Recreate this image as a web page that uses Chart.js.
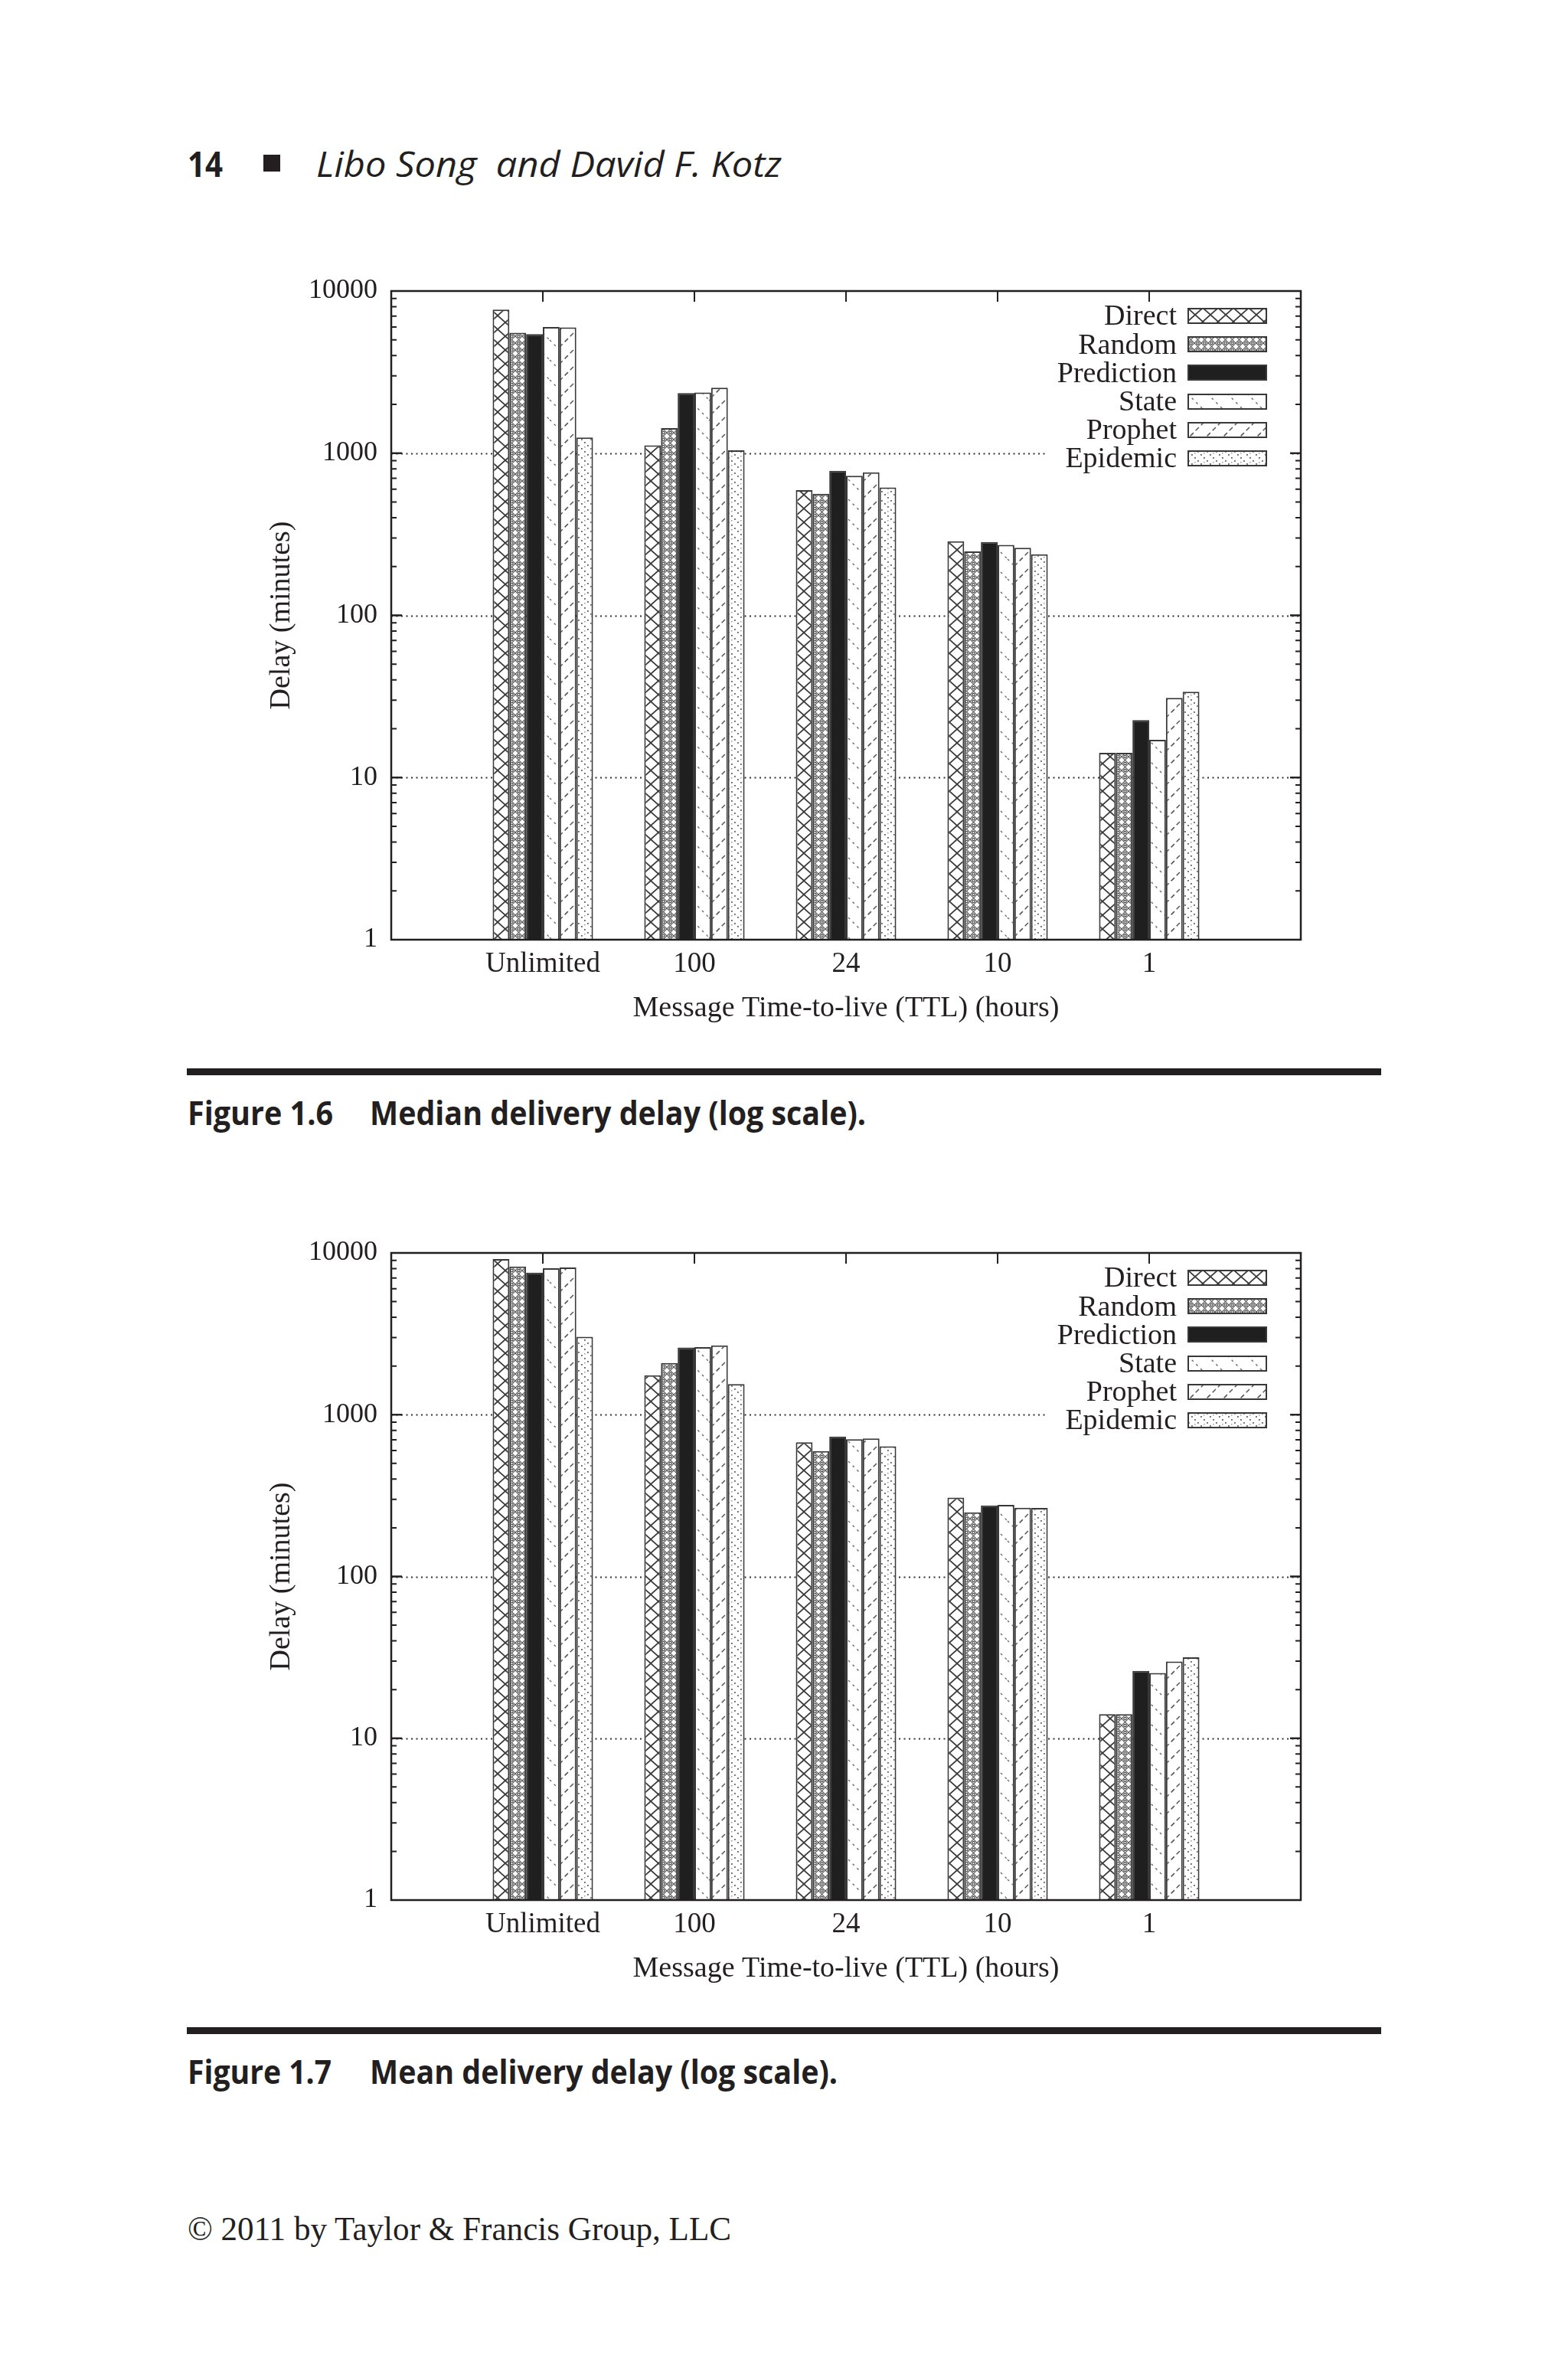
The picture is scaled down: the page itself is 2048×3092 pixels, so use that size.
<!DOCTYPE html>
<html>
<head>
<meta charset="utf-8">
<script src="https://cdn.jsdelivr.net/npm/chart.js@4.4.1/dist/chart.umd.min.js"></script>
<style>
  html, body { margin:0; padding:0; background:#fff; }
  body { width:2048px; height:3092px; position:relative; overflow:hidden; }
  .box { position:absolute; }
  canvas { display:block; }
</style>
</head>
<body>
<div class="box" style="left:250px;top:340px;width:1500px;height:1020px;"><canvas id="c1" width="1500" height="1020"></canvas></div>
<div class="box" style="left:250px;top:1596px;width:1500px;height:1018px;"><canvas id="c2" width="1500" height="1018"></canvas></div>
<script>
// ---------- DATA ----------
const categories = ['Unlimited', '100', '24', '10', '1'];
const seriesNames = ['Direct', 'Random', 'Prediction', 'State', 'Prophet', 'Epidemic'];
const yTickValues = [1, 10, 100, 1000, 10000];

// Figure 1.6 - median delivery delay (minutes)
const medianDirect     = [7690, 1117, 591, 286, 14.2];
const medianRandom     = [5525, 1426, 562, 248, 14.2];
const medianPrediction = [5420, 2350, 778, 283, 22.6];
const medianState      = [5995, 2370, 726, 272, 17.1];
const medianProphet    = [5960, 2531, 763, 261, 31.0];
const medianEpidemic   = [1250, 1043, 614, 238, 33.8];

// Figure 1.7 - mean delivery delay (minutes)
const meanDirect     = [9160, 1754, 675, 307, 14.1];
const meanRandom     = [8240, 2089, 596, 249, 14.1];
const meanPrediction = [7550, 2600, 732, 275, 26.1];
const meanState      = [8040, 2615, 705, 277, 25.3];
const meanProphet    = [8140, 2680, 714, 266, 29.8];
const meanEpidemic   = [3035, 1548, 638, 265, 31.7];

const xTitle = 'Message Time-to-live (TTL) (hours)';
const yTitle = 'Delay (minutes)';

// ---------- PATTERNS ----------
function tile(w, h, draw) {
  const c = document.createElement('canvas'); c.width = w; c.height = h;
  const g = c.getContext('2d'); g.fillStyle = '#fff'; g.fillRect(0, 0, w, h);
  draw(g, w, h); return c;
}
function diagLines(g, w, h, kind) {
  for (const ox of [-w, 0, w]) for (const oy of [-h, 0, h]) {
    g.beginPath();
    if (kind === 'back' || kind === 'x') { g.moveTo(ox, oy); g.lineTo(ox + w, oy + h); }
    if (kind === 'fwd' || kind === 'x') { g.moveTo(ox + w, oy); g.lineTo(ox, oy + h); }
    g.stroke();
  }
}
const tiles = {
  Direct: tile(20, 18, (g, w, h) => { g.strokeStyle = '#3a3a3a'; g.lineWidth = 1.7; diagLines(g, w, h, 'x'); }),
  Random: tile(9, 9, (g, w, h) => {
    g.strokeStyle = '#5a5a5a'; g.lineWidth = 1.2; diagLines(g, w, h, 'x');
    g.strokeStyle = '#4a4a4a'; g.lineWidth = 1.2;
    g.beginPath(); g.arc(4.5, 0, 1.7, 0, Math.PI * 2); g.stroke();
    g.beginPath(); g.arc(4.5, 9, 1.7, 0, Math.PI * 2); g.stroke();
  }),
  Prediction: null,
  State: tile(26, 26, (g, w, h) => { g.strokeStyle = '#6a6a6a'; g.lineWidth = 1.4; g.setLineDash([3, 5]); diagLines(g, w, h, 'back'); }),
  Prophet: tile(22, 22, (g, w, h) => { g.strokeStyle = '#555'; g.lineWidth = 1.5; g.setLineDash([6, 4]); diagLines(g, w, h, 'fwd'); }),
  Epidemic: tile(12, 12, (g, w, h) => {
    g.fillStyle = '#5e5e5e';
    g.fillRect(1, 1, 1.8, 1.8); g.fillRect(5, 5, 1.8, 1.8); g.fillRect(9, 9, 1.8, 1.8);
    g.fillStyle = '#9a9a9a'; g.fillRect(9, 3, 1.5, 1.5);
  })
};
function fillFor(name, ctx) {
  if (name === 'Prediction') return '#1f1f1f';
  return ctx.createPattern(tiles[name], 'repeat');
}

// ---------- PLUGINS ----------
const INK = '#231f20';
const frameAndGrid = {
  id: 'frameAndGrid',
  beforeDatasetsDraw(chart) {
    const { ctx, chartArea: a, scales: { y } } = chart;
    ctx.save();
    ctx.strokeStyle = '#333'; ctx.lineWidth = 1.8; ctx.setLineDash([2, 4.5]);
    for (const v of yTickValues.slice(1, -1)) {
      const py = Math.round(y.getPixelForValue(v)) + 0.5;
      ctx.beginPath(); ctx.moveTo(a.left, py); ctx.lineTo(a.right, py); ctx.stroke();
    }
    ctx.restore();
  },
  afterDatasetsDraw(chart) {
    const { ctx, chartArea: a, scales: { x, y } } = chart;
    ctx.save();
    ctx.strokeStyle = INK; ctx.lineWidth = 2.5; ctx.setLineDash([]);
    ctx.strokeRect(a.left, a.top, a.right - a.left, a.bottom - a.top);
    ctx.lineWidth = 2;
    for (let e = 0; e < 4; e++) {
      for (let m = 1; m <= 10; m++) {
        const v = m * Math.pow(10, e);
        if (v > 10000) continue;
        const py = y.getPixelForValue(v);
        const len = (m === 1 || m === 10) ? 14 : 7;
        ctx.beginPath();
        ctx.moveTo(a.left, py); ctx.lineTo(a.left + len, py);
        ctx.moveTo(a.right, py); ctx.lineTo(a.right - len, py);
        ctx.stroke();
      }
    }
    for (let i = 1; i <= categories.length; i++) {
      const px = x.getPixelForValue(i);
      ctx.beginPath(); ctx.moveTo(px, a.top); ctx.lineTo(px, a.top + 14); ctx.stroke();
    }
    ctx.restore();
  }
};

function makeChart(id, values) {
  const canvas = document.getElementById(id);
  const ctx = canvas.getContext('2d');
  const datasets = seriesNames.map((name, k) => ({
    label: name,
    data: [null, ...values[k], null],
    backgroundColor: fillFor(name, ctx),
    borderColor: '#383838',
    borderWidth: 2,
    categoryPercentage: 0.662,
    barPercentage: 1.0
  }));
  return new Chart(ctx, {
    type: 'bar',
    data: { labels: ['', ...categories, ''], datasets },
    options: {
      responsive: false, animation: false, devicePixelRatio: 1,
      layout: { padding: { left: 0, top: 40, right: 51, bottom: 0 } },
      plugins: { legend: { display: false }, tooltip: { enabled: false } },
      scales: {
        x: {
          type: 'category', offset: false,
          grid: { display: false, drawTicks: false }, border: { display: false },
          ticks: { font: { family: 'Liberation Serif', size: 37 }, color: INK, padding: 10, autoSkip: false, maxRotation: 0, minRotation: 0 },
          title: { display: true, text: xTitle, font: { family: 'Liberation Serif', size: 38 }, color: INK, padding: { top: 0, bottom: 20 } },
          afterFit: s => { s.height = 133; }
        },
        y: {
          type: 'logarithmic', min: 1, max: 10000,
          grid: { display: false, drawTicks: false }, border: { display: false },
          afterBuildTicks: s => { s.ticks = yTickValues.map(v => ({ value: v, major: true })); },
          ticks: { font: { family: 'Liberation Serif', size: 36 }, color: INK, padding: 18, callback: v => String(v) },
          title: { display: true, text: yTitle, font: { family: 'Liberation Serif', size: 38 }, color: INK, padding: { top: 95, bottom: 0 } },
          afterFit: s => { s.width = 261; }
        }
      }
    },
    plugins: [frameAndGrid]
  });
}

// ---------- PAGE TEXT ----------
function placeText(t) {
  const d = document.createElement('div');
  d.style.cssText = `position:absolute;left:${t.x}px;top:0;white-space:pre;font-family:${t.family};font-size:${t.size}px;font-weight:${t.weight || 'normal'};font-style:${t.style || 'normal'};color:${t.color || INK};line-height:1.2;transform-origin:${t.right ? '100% 0' : '0 0'};`;
  const s = document.createElement('span'); s.textContent = t.text; d.appendChild(s);
  const m = document.createElement('span'); m.style.cssText = 'display:inline-block;width:0;height:0;vertical-align:baseline;';
  d.appendChild(m);
  document.body.appendChild(d);
  const base = m.offsetTop;
  d.style.top = (t.baseline - base) + 'px';
  const w = s.getBoundingClientRect().width;
  if (t.right) { d.style.left = (t.right - w) + 'px'; }
  if (t.width) d.style.transform = `scaleX(${t.width / w})`;
  return d;
}
function rect(x, y, w, h, color) {
  const d = document.createElement('div');
  d.style.cssText = `position:absolute;left:${x}px;top:${y}px;width:${w}px;height:${h}px;background:${color};`;
  document.body.appendChild(d); return d;
}
function legend(plotTop) {
  rect(1368, plotTop + 15, 316, 228, '#fff');
  const rows = [32, 69.5, 106.5, 144, 181, 218];
  seriesNames.forEach((name, i) => {
    const cy = plotTop + rows[i];
    placeText({ text: name, family: 'Liberation Serif', size: 38, right: 1537, baseline: cy + 12 });
    const c = document.createElement('canvas'); c.width = 104; c.height = 21;
    c.style.cssText = `position:absolute;left:1551px;top:${cy - 10.5}px;`;
    const g = c.getContext('2d');
    g.fillStyle = fillFor(name, g); g.fillRect(0, 0, 104, 21);
    g.strokeStyle = '#383838'; g.lineWidth = 2; g.strokeRect(1, 1, 102, 19);
    document.body.appendChild(c);
  });
}

function buildPage() {
  // running header
  placeText({ text: '14', family: 'Open Sans', size: 46, weight: 'bold', x: 245, baseline: 231, width: 46 });
  rect(344, 202, 22, 22, INK);
  placeText({ text: 'Libo Song  and David F. Kotz', family: 'Open Sans', size: 46, style: 'italic', x: 413, baseline: 231, width: 608 });

  // charts
  makeChart('c1', [medianDirect, medianRandom, medianPrediction, medianState, medianProphet, medianEpidemic]);
  makeChart('c2', [meanDirect, meanRandom, meanPrediction, meanState, meanProphet, meanEpidemic]);
  legend(380);
  legend(1636);

  // captions
  rect(244, 1395, 1560, 9, INK);
  placeText({ text: 'Figure 1.6', family: 'Open Sans', size: 43, weight: 'bold', x: 245, baseline: 1469, width: 190 });
  placeText({ text: 'Median delivery delay (log scale).', family: 'Open Sans', size: 43, weight: 'bold', x: 483, baseline: 1469, width: 648 });
  rect(244, 2647, 1560, 9, INK);
  placeText({ text: 'Figure 1.7', family: 'Open Sans', size: 43, weight: 'bold', x: 245, baseline: 2721, width: 188 });
  placeText({ text: 'Mean delivery delay (log scale).', family: 'Open Sans', size: 43, weight: 'bold', x: 483, baseline: 2721, width: 611 });

  // footer
  placeText({ text: '\u00A9 2011 by Taylor & Francis Group, LLC', family: 'Liberation Serif', size: 45, x: 245, baseline: 2925, width: 710 });
}
if (document.fonts && document.fonts.ready) document.fonts.ready.then(buildPage); else buildPage();
</script>
</body>
</html>
